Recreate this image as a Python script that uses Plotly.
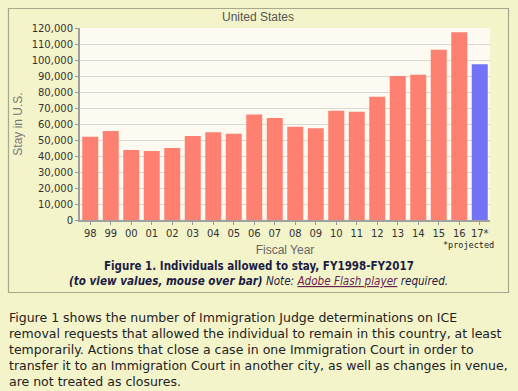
import plotly.graph_objects as go

years = ["98", "99", "00", "01", "02", "03", "04", "05", "06", "07",
         "08", "09", "10", "11", "12", "13", "14", "15", "16", "17*"]
stay_values = [52000, 55600, 43800, 43100, 45000, 52500, 54800, 53900, 66000, 63700,
               58300, 57300, 68300, 67600, 77000, 90000, 90800, 106400, 117300, 97300]
projected = [False] * 19 + [True]
y_ticks = list(range(0, 120001, 10000))

W, H = 518, 391
L, R, T, B = 80, 490, 28, 220  # plot area in pixels


def px(x):
    return (x - L) / (R - L)


def py(y):
    return (B - y) / (B - T)


colors = ["#7373f5" if p else "#fd8070" for p in projected]

fig = go.Figure(go.Bar(x=years, y=stay_values, marker=dict(color=colors, line=dict(width=0)),
                       hoverinfo="x+y"))

fig.update_layout(
    width=W, height=H,
    margin=dict(l=L, r=W - R, t=T, b=H - B, pad=0),
    paper_bgcolor="#f4f4cb",
    plot_bgcolor="#fdfbf1",
    bargap=0.22,
    showlegend=False,
    font=dict(family="DejaVu Sans", size=10, color="#333333"),
    xaxis=dict(
        type="category", showgrid=False, ticks="outside", ticklen=3, tickcolor="#999999",
        showline=True, linecolor="#a0a0a0", linewidth=2,
        tickfont=dict(family="DejaVu Sans", size=10, color="#333333"),
        title=dict(text="Fiscal Year", font=dict(family="Liberation Sans", size=12, color="#666666"), standoff=8),
    ),
    yaxis=dict(
        range=[0, 120000], tickvals=y_ticks, tickformat=",", showgrid=True, gridcolor="#d9d9d4",
        gridwidth=1, zeroline=False, ticks="outside", ticklen=3, tickcolor="#999999",
        showline=True, linecolor="#a0a0a0", linewidth=2,
        tickfont=dict(family="DejaVu Sans", size=10, color="#333333"),
        title=dict(text="Stay in U.S.", font=dict(family="Liberation Sans", size=12, color="#777777"), standoff=6),
    ),
)

# box border
fig.add_shape(type="rect", xref="paper", yref="paper",
              x0=px(8.5), x1=px(508.5), y0=py(292.5), y1=py(8.5),
              line=dict(color="#a8a88c", width=1.2), fillcolor="rgba(0,0,0,0)", layer="below")

ann = []
ann.append(dict(text="United States", x=px(258), y=py(17), font=dict(family="Liberation Sans", size=12, color="#555555")))
ann.append(dict(text="*projected", x=px(468), y=py(245), font=dict(family="DejaVu Sans Mono", size=8.5, color="#222222")))
ann.append(dict(text="<b>Figure 1. Individuals allowed to stay, FY1998-FY2017</b>", x=px(259), y=py(266),
                font=dict(family="DejaVu Sans Condensed, Liberation Sans", size=11.5, color="#1c1c44")))
ann.append(dict(text="<b><i>(to view values, mouse over bar)</i></b><i> Note: <span style='color:#6b1f4f'><u>Adobe Flash player</u></span> required.</i>",
                x=px(258), y=py(281),
                font=dict(family="DejaVu Sans Condensed, Liberation Sans", size=11.6, color="#1c1c44")))

para = [
    "Figure 1 shows the number of Immigration Judge determinations on ICE",
    "removal requests that allowed the individual to remain in this country, at least",
    "temporarily. Actions that close a case in one Immigration Court in order to",
    "transfer it to an Immigration Court in another city, as well as changes in venue,",
    "are not treated as closures.",
]
for i, line in enumerate(para):
    ann.append(dict(text=line, x=px(7), y=py(317 + i * 16), xanchor="left",
                    font=dict(family="DejaVu Sans", size=12.5, color="#222222")))

for a in ann:
    a.setdefault("xanchor", "center")
    a.update(xref="paper", yref="paper", yanchor="middle", showarrow=False)
    fig.add_annotation(**a)

fig.write_html("out.html", config={"displayModeBar": False},
               post_script="document.body.style.margin='0';document.body.style.overflow='hidden';")
